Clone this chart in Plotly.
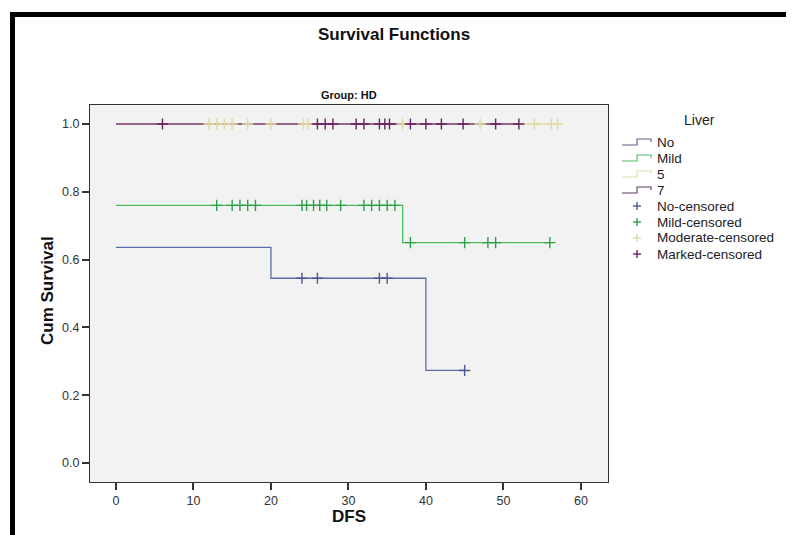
import plotly.graph_objects as go

# ---- data ----
no_t = [0, 20, 40, 45]
no_s = [0.636, 0.545, 0.273, 0.273]
mild_t = [0, 37, 56]
mild_s = [0.76, 0.65, 0.65]
mod_t = [0, 57]
mod_s = [1.0, 1.0]
marked_t = [0, 52]
marked_s = [1.0, 1.0]

no_cens_t = [24, 26, 34, 35, 45]
no_cens_s = [0.545, 0.545, 0.545, 0.545, 0.273]
mild_cens_t = [13, 15, 16, 17, 18, 24, 24.6, 25.5, 26.3, 27.2, 29, 32, 33, 34, 35, 36,
               38, 45, 48, 49, 56]
mild_cens_s = [0.76] * 16 + [0.65] * 5
mod_cens_t = [12, 13, 14, 15, 17, 20, 24.2, 24.8, 37, 47, 54, 56.2, 57]
mod_cens_s = [1.0] * 13
marked_cens_t = [6, 26, 27, 28, 31, 32, 34, 34.7, 35.3, 38, 40, 42, 44.8, 49, 52]
marked_cens_s = [1.0] * 15

legend_title = "Liver"
line_names = ["No", "Mild", "5", "7"]
cens_names = ["No-censored", "Mild-censored", "Moderate-censored", "Marked-censored"]
x_ticks = [0, 10, 20, 30, 40, 50, 60]
y_ticks = [0.0, 0.2, 0.4, 0.6, 0.8, 1.0]

line_colors = ["#5b6da8", "#4cbb62", "#e4e0a6", "#7a3a78"]
mark_colors = ["#4a5a96", "#2f9e4a", "#dedaa0", "#6a2062"]

FONT = "Liberation Sans, Arial, sans-serif"

fig = go.Figure()
series = [(no_t, no_s), (mild_t, mild_s), (mod_t, mod_s), (marked_t, marked_s)]
for i in range(4):
    t, s = series[i]
    fig.add_trace(go.Scatter(x=t, y=s, mode="lines", line_shape="hv",
                             line=dict(color=line_colors[i], width=1.3),
                             name=line_names[i]))
cens = [(no_cens_t, no_cens_s), (mild_cens_t, mild_cens_s),
        (mod_cens_t, mod_cens_s), (marked_cens_t, marked_cens_s)]
for i in range(4):
    t, s = cens[i]
    fig.add_trace(go.Scatter(x=t, y=s, mode="markers", name=cens_names[i],
                             marker=dict(symbol="cross-thin", size=8,
                                         color=mark_colors[i],
                                         line=dict(color=mark_colors[i], width=1.4))))

# page has an 8px body margin; work in reference pixel coordinates
OFF = 8
W, H = 794 - OFF, 535 - OFF
L, R, T, B = 90 - OFF, 608 - OFF, 105 - OFF, 482 - OFF
pw, ph = R - L, B - T


def fx(x):
    return (x - OFF - L) / pw


def fy(y):
    return (B - (y - OFF)) / ph


annotations = [
    dict(text="<b>Survival Functions</b>", x=fx(394), y=fy(35), xanchor="center",
         yanchor="middle", font=dict(size=17, color="#111")),
    dict(text="<b>Group: HD</b>", x=0.5, y=fy(95), xanchor="center",
         yanchor="middle", font=dict(size=11, color="#111")),
    dict(text="<b>Cum Survival</b>", x=fx(47), y=fy(291), xanchor="center",
         yanchor="middle", textangle=-90, font=dict(size=17, color="#111")),
    dict(text="<b>DFS</b>", x=0.5, y=fy(516), xanchor="center", yanchor="middle",
         font=dict(size=17, color="#111")),
    dict(text=legend_title, x=fx(699), y=fy(120), xanchor="center",
         yanchor="middle", font=dict(size=14, color="#222")),
]
shapes = [
    dict(type="rect", x0=fx(12.5), x1=fx(830), y0=fy(570), y1=fy(14.5),
         line=dict(color="black", width=5), fillcolor="rgba(0,0,0,0)", layer="above"),
]

rows = [142, 158, 174, 190, 206, 222, 238, 254]
all_names = line_names + cens_names
for k, name in enumerate(all_names):
    yy = rows[k]
    annotations.append(dict(text=name, x=fx(655), y=fy(yy), xanchor="left",
                            yanchor="middle", font=dict(size=13.5, color="#222")))
    if k < 4:
        c = line_colors[k] if k != 0 else "#55607e"
        if k == 3:
            c = "#5a3a5e"
        path = (f"M {fx(622)},{fy(yy + 3)} L {fx(637)},{fy(yy + 3)} "
                f"L {fx(637)},{fy(yy - 3)} L {fx(651)},{fy(yy - 3)} "
                f"L {fx(651)},{fy(yy)}")
        shapes.append(dict(type="path", path=path, line=dict(color=c, width=1.1)))
    else:
        c = mark_colors[k - 4]
        shapes.append(dict(type="line", x0=fx(633), x1=fx(641), y0=fy(yy), y1=fy(yy),
                           line=dict(color=c, width=1.4)))
        shapes.append(dict(type="line", x0=fx(637), x1=fx(637), y0=fy(yy - 4),
                           y1=fy(yy + 4), line=dict(color=c, width=1.4)))

for a in annotations:
    a.update(xref="paper", yref="paper", showarrow=False)
for s in shapes:
    s.update(xref="paper", yref="paper")

fig.update_layout(
    width=W, height=H,
    margin=dict(l=L, r=W - R, t=T, b=H - B, pad=0),
    paper_bgcolor="white", plot_bgcolor="#f2f2f2",
    font=dict(family=FONT, size=12, color="#222"),
    showlegend=False,
    xaxis=dict(range=[-3.35, 63.5], tickvals=x_ticks, ticks="outside", ticklen=7,
               tickwidth=1.6, tickcolor="#333", showgrid=False, zeroline=False,
               showline=True, linecolor="#333", linewidth=1.2, mirror=True,
               tickfont=dict(size=12.5, color="#333")),
    yaxis=dict(range=[-0.056, 1.056], tickvals=y_ticks, tickformat=".1f",
               ticks="outside", ticklen=7, tickwidth=1.6, tickcolor="#333",
               showgrid=False, zeroline=False, showline=True, linecolor="#333",
               linewidth=1.2, mirror=True, tickfont=dict(size=12.5, color="#333")),
    annotations=annotations,
    shapes=shapes,
)

fig.write_html("out.html")
